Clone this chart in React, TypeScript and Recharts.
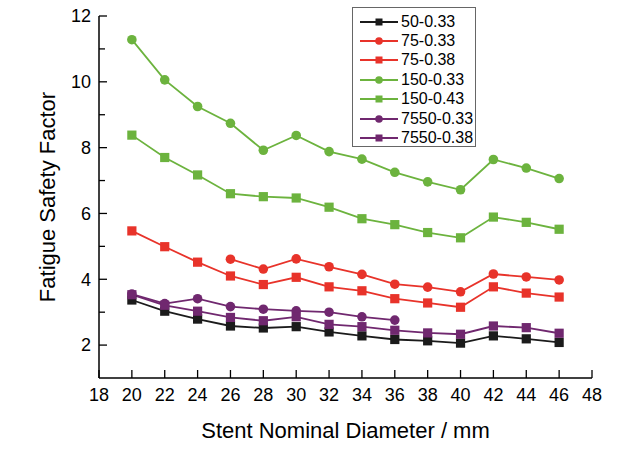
import React from "react";
import { LineChart, Line, XAxis, YAxis, Legend } from "recharts";

// Stent nominal diameter (mm) on the x axis
const diameters = [20, 22, 24, 26, 28, 30, 32, 34, 36, 38, 40, 42, 44, 46];

// Fatigue safety factor per stent group
const s50_033 = [3.37, 3.03, 2.79, 2.58, 2.52, 2.56, 2.4, 2.28, 2.17, 2.13, 2.06, 2.28, 2.19, 2.08];
const s75_033 = [null, null, null, 4.61, 4.31, 4.62, 4.38, 4.15, 3.85, 3.76, 3.62, 4.16, 4.07, 3.98];
const s75_038 = [5.47, 4.99, 4.52, 4.1, 3.84, 4.06, 3.77, 3.65, 3.41, 3.28, 3.15, 3.77, 3.58, 3.46];
const s150_033 = [11.28, 10.06, 9.25, 8.74, 7.92, 8.37, 7.88, 7.65, 7.25, 6.96, 6.72, 7.64, 7.38, 7.06];
const s150_043 = [8.38, 7.7, 7.17, 6.6, 6.51, 6.47, 6.19, 5.84, 5.66, 5.42, 5.26, 5.89, 5.73, 5.52];
const s7550_033 = [3.55, 3.26, 3.41, 3.17, 3.09, 3.04, 3.0, 2.86, 2.76, null, null, null, null, null];
const s7550_038 = [3.53, 3.21, 3.03, 2.84, 2.74, 2.86, 2.63, 2.56, 2.45, 2.37, 2.33, 2.58, 2.53, 2.36];

const xTicks = [18, 20, 22, 24, 26, 28, 30, 32, 34, 36, 38, 40, 42, 44, 46, 48];
const yTicks = [2, 3, 4, 5, 6, 7, 8, 9, 10, 11, 12];

const BLACK = "#1b1b1b";
const RED = "#e8332a";
const GREEN = "#6cb33e";
const PURPLE = "#70286f";
const FONT = "'Liberation Sans', Arial, sans-serif";

type Shape = "circle" | "square";
const series: { key: string; name: string; values: (number | null)[]; color: string; shape: Shape }[] = [
  { key: "s50_033", name: "50-0.33", values: s50_033, color: BLACK, shape: "square" },
  { key: "s75_033", name: "75-0.33", values: s75_033, color: RED, shape: "circle" },
  { key: "s75_038", name: "75-0.38", values: s75_038, color: RED, shape: "square" },
  { key: "s150_033", name: "150-0.33", values: s150_033, color: GREEN, shape: "circle" },
  { key: "s150_043", name: "150-0.43", values: s150_043, color: GREEN, shape: "square" },
  { key: "s7550_033", name: "7550-0.33", values: s7550_033, color: PURPLE, shape: "circle" },
  { key: "s7550_038", name: "7550-0.38", values: s7550_038, color: PURPLE, shape: "square" },
];

const data = diameters.map((dia, i) => {
  const row: Record<string, number | null> = { dia };
  series.forEach((s) => (row[s.key] = s.values[i]));
  return row;
});

function makeDot(color: string, shape: Shape) {
  return (props: any) => {
    const { cx, cy, index } = props;
    if (cx == null || cy == null || Number.isNaN(cy)) return <g key={index} />;
    if (shape === "circle")
      return <circle key={index} cx={cx} cy={cy} r={4.8} fill={color} stroke="none" />;
    return <rect key={index} x={cx - 4.6} y={cy - 4.6} width={9.2} height={9.2} fill={color} />;
  };
}

// ticks point inward, labels outside
function XTick(props: any) {
  const { x, y, payload } = props;
  return (
    <g>
      <line x1={x} y1={y} x2={x} y2={y - 8} stroke="#000" strokeWidth={1.3} />
      <text x={x} y={y + 23} textAnchor="middle" fontSize={18} fontFamily={FONT} fill="#000">
        {payload.value}
      </text>
    </g>
  );
}

function YTick(props: any) {
  const { x, y, payload } = props;
  const major = payload.value % 2 === 0;
  return (
    <g>
      <line x1={x} y1={y} x2={x + (major ? 8 : 6)} y2={y} stroke="#000" strokeWidth={1.3} />
      {major && (
        <text x={x - 8} y={y} dy="0.35em" textAnchor="end" fontSize={18} fontFamily={FONT} fill="#000">
          {payload.value}
        </text>
      )}
    </g>
  );
}

function LegendBox() {
  return (
    <div
      style={{
        border: "1px solid #666",
        background: "#fff",
        width: 122,
        height: 134,
        paddingTop: 4,
        fontFamily: FONT,
        fontSize: 16,
        color: "#000",
      }}
    >
      {series.map((s) => (
        <div key={s.key} style={{ display: "flex", alignItems: "center", height: 19.4, whiteSpace: "nowrap" }}>
          <svg width={48} height={14} style={{ flex: "none" }}>
            <line x1={7} y1={7} x2={45} y2={7} stroke={s.color} strokeWidth={1.8} />
            {s.shape === "circle" ? (
              <circle cx={26} cy={7} r={3.8} fill={s.color} />
            ) : (
              <rect x={22.5} y={3.5} width={7} height={7} fill={s.color} />
            )}
          </svg>
          <span>{s.name}</span>
        </div>
      ))}
    </div>
  );
}

export default function App() {
  return (
    <div style={{ position: "absolute", left: 0, top: 0, background: "#fff" }}>
      <LineChart width={635} height={453} data={data} margin={{ top: 16, right: 43, bottom: 0, left: 0 }}>
        <XAxis
          dataKey="dia"
          type="number"
          domain={[18, 48]}
          ticks={xTicks}
          height={75}
          tickSize={0}
          tickMargin={0}
          tickLine={false}
          axisLine={{ stroke: "#000", strokeWidth: 1.5 }}
          tick={<XTick />}
          interval={0}
          label={{
            value: "Stent Nominal Diameter / mm",
            position: "insideBottom",
            offset: 15,
            style: { fontSize: 22, fontFamily: FONT, fill: "#000" },
          }}
        />
        <YAxis
          type="number"
          domain={[1, 12]}
          ticks={yTicks}
          width={99}
          tickSize={0}
          tickMargin={0}
          tickLine={false}
          axisLine={{ stroke: "#000", strokeWidth: 1.5 }}
          tick={<YTick />}
          interval={0}
          label={{
            value: "Fatigue Safety Factor",
            angle: -90,
            position: "insideLeft",
            offset: 47,
            style: { fontSize: 22, fontFamily: FONT, fill: "#000", textAnchor: "middle" },
          }}
        />
        <Legend
          layout="vertical"
          align="center"
          verticalAlign="middle"
          content={() => <LegendBox />}
          wrapperStyle={{ left: 352, top: 7, width: 124, height: 140 }}
        />
        {series.map((s) => (
          <Line
            key={s.key}
            dataKey={s.key}
            name={s.name}
            stroke={s.color}
            strokeWidth={1.8}
            dot={makeDot(s.color, s.shape)}
            activeDot={false}
            isAnimationActive={false}
          />
        ))}
      </LineChart>
    </div>
  );
}
